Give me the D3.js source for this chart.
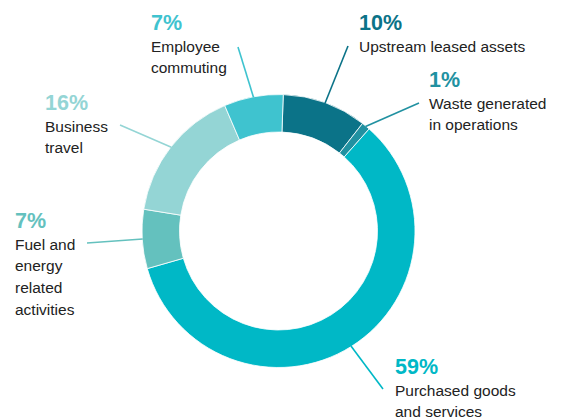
<!DOCTYPE html>
<html>
<head>
<meta charset="utf-8">
<script src="https://cdn.jsdelivr.net/npm/d3@7"></script>
<style>
  html, body { margin: 0; padding: 0; background: #fff; }
  svg { display: block; }
</style>
</head>
<body>
<svg id="chart" width="561" height="419"></svg>
<script>
// ---- data ----
const categories = [
  "Upstream leased assets",
  "Waste generated in operations",
  "Purchased goods and services",
  "Fuel and energy related activities",
  "Business travel",
  "Employee commuting"
];
const values = [10, 1, 59, 7, 16, 7];
const labelLines = [
  ["Upstream leased assets"],
  ["Waste generated", "in operations"],
  ["Purchased goods", "and services"],
  ["Fuel and", "energy", "related", "activities"],
  ["Business", "travel"],
  ["Employee", "commuting"]
];

// ---- styles / layout ----
const colors = ["#0b7388", "#2191a1", "#00b8c6", "#64c1be", "#94d5d5", "#3fc3cf"];
// label anchor (x, baseline of percent) and leader line end
const layout = [
  { x: 359, y: 30,  lx: 348, ly: 46 },
  { x: 429, y: 87,  lx: 419, ly: 103 },
  { x: 395, y: 374, lx: 383, ly: 389 },
  { x: 15,  y: 228, lx: 87,  ly: 243 },
  { x: 45,  y: 110, lx: 120, ly: 125 },
  { x: 151, y: 30,  lx: 238, ly: 47 }
];
const cx = 278.5, cy = 231, rOuter = 136.5, rInner = 99;
const offset = 2 * Math.PI / 180;
const lineH = 21.7;

const svg = d3.select("#chart");
const g = svg.append("g").attr("transform", `translate(${cx},${cy})`);

const pie = d3.pie().sort(null).value(d => d)
  .startAngle(offset).endAngle(2 * Math.PI + offset);
const arcs = pie(values);
const arc = d3.arc().innerRadius(rInner).outerRadius(rOuter);

g.selectAll("path.slice").data(arcs).enter().append("path")
  .attr("class", "slice")
  .attr("d", arc)
  .attr("fill", (d, i) => colors[i])
  .attr("stroke", "#fff")
  .attr("stroke-width", 0.8);

// leader lines
arcs.forEach((a, i) => {
  const mid = (a.startAngle + a.endAngle) / 2;
  const sx = cx + rOuter * Math.sin(mid) - 0.5 * Math.sin(mid);
  const sy = cy - rOuter * Math.cos(mid) + 0.5 * Math.cos(mid);
  svg.append("line")
    .attr("x1", sx).attr("y1", sy)
    .attr("x2", layout[i].lx).attr("y2", layout[i].ly)
    .attr("stroke", colors[i])
    .attr("stroke-width", 1.6);
});

// labels
const total = d3.sum(values);
arcs.forEach((a, i) => {
  const L = layout[i];
  svg.append("text")
    .attr("x", L.x).attr("y", L.y)
    .attr("font-family", "Liberation Sans, Arial, sans-serif")
    .attr("font-weight", "bold")
    .attr("font-size", 21.5)
    .attr("fill", colors[i])
    .text(Math.round(values[i] / total * 100) + "%");
  labelLines[i].forEach((t, j) => {
    svg.append("text")
      .attr("x", L.x).attr("y", L.y + lineH * (j + 1))
      .attr("font-family", "Liberation Sans, Arial, sans-serif")
      .attr("font-size", 15.5)
      .attr("fill", "#222")
      .text(t);
  });
});
</script>
</body>
</html>
